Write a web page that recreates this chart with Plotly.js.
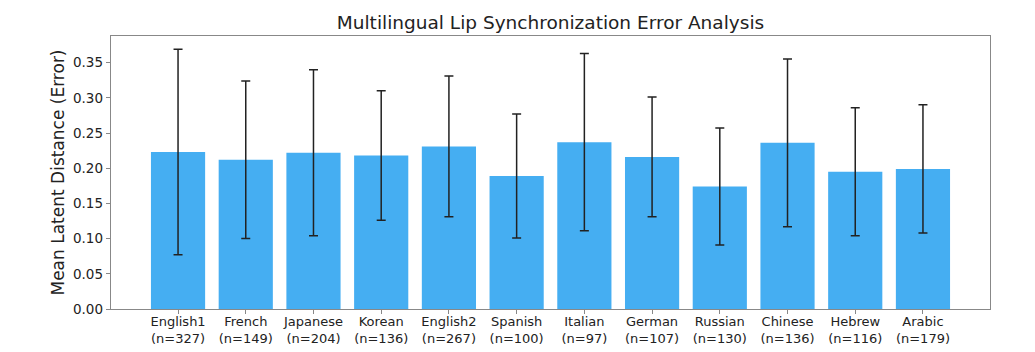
<!DOCTYPE html>
<html>
<head>
<meta charset="utf-8">
<script src="https://cdn.plot.ly/plotly-3.0.1.min.js"></script>
<style>html,body{margin:0;padding:0;background:#fff;}#chart{width:1035px;height:352px;}</style>
</head>
<body>
<div id="chart"></div>
<script>
const languages = ["English1","French","Japanese","Korean","English2","Spanish","Italian","German","Russian","Chinese","Hebrew","Arabic"];
const sampleCounts = [327,149,204,136,267,100,97,107,130,136,116,179];
const meanDistance = [0.223,0.212,0.222,0.218,0.231,0.189,0.237,0.216,0.174,0.236,0.195,0.199];
const stdDistance = [0.146,0.112,0.118,0.092,0.100,0.088,0.126,0.085,0.083,0.119,0.091,0.091];
const yTicks = [0,0.05,0.10,0.15,0.20,0.25,0.30,0.35];

const tickText = languages.map((l,i)=>l+"<br>(n="+sampleCounts[i]+")");
const xIdx = languages.map((_,i)=>i);

const trace = {
  type: "bar",
  x: xIdx,
  y: meanDistance,
  width: 0.8,
  marker: {color: "#45aef2", line: {width: 0}},
  error_y: {type: "data", array: stdDistance, visible: true, color: "#222222", thickness: 1.5, width: 4.5},
  hoverinfo: "y"
};

const layout = {
  width: 1035, height: 352,
  margin: {l: 111, r: 45, t: 36, b: 43},
  paper_bgcolor: "#ffffff", plot_bgcolor: "#ffffff",
  font: {family: "DejaVu Sans", color: "#222222", size: 13},
  title: {text: "Multilingual Lip Synchronization Error Analysis", x: 0.5, xref: "paper", y: 0.935, yref: "container", yanchor: "middle", font: {size: 18.5, family: "DejaVu Sans", color: "#222"}},
  showlegend: false,
  xaxis: {
    range: [-0.99, 11.99],
    tickmode: "array", tickvals: xIdx, ticktext: tickText,
    showgrid: false, zeroline: false,
    showline: true, linecolor: "#888888", linewidth: 1.3, mirror: true,
    ticks: "outside", ticklen: 4, tickcolor: "#888888",
    ticklabelstandoff: -4,
    tickfont: {size: 13, family: "DejaVu Sans", color: "#222"}
  },
  yaxis: {
    range: [0, 0.3878],
    tickmode: "array", tickvals: yTicks, ticktext: yTicks.map(v=>v.toFixed(2)),
    showgrid: false, zeroline: false,
    showline: true, linecolor: "#888888", linewidth: 1.3, mirror: true,
    ticks: "outside", ticklen: 4, tickcolor: "#888888",
    tickfont: {size: 13.5, family: "DejaVu Sans", color: "#222"},
    title: {text: "Mean Latent Distance (Error)", font: {size: 17, family: "DejaVu Sans", color: "#222"}, standoff: 4}
  }
};

Plotly.newPlot("chart", [trace], layout, {displayModeBar: false, staticPlot: true});
</script>
</body>
</html>
